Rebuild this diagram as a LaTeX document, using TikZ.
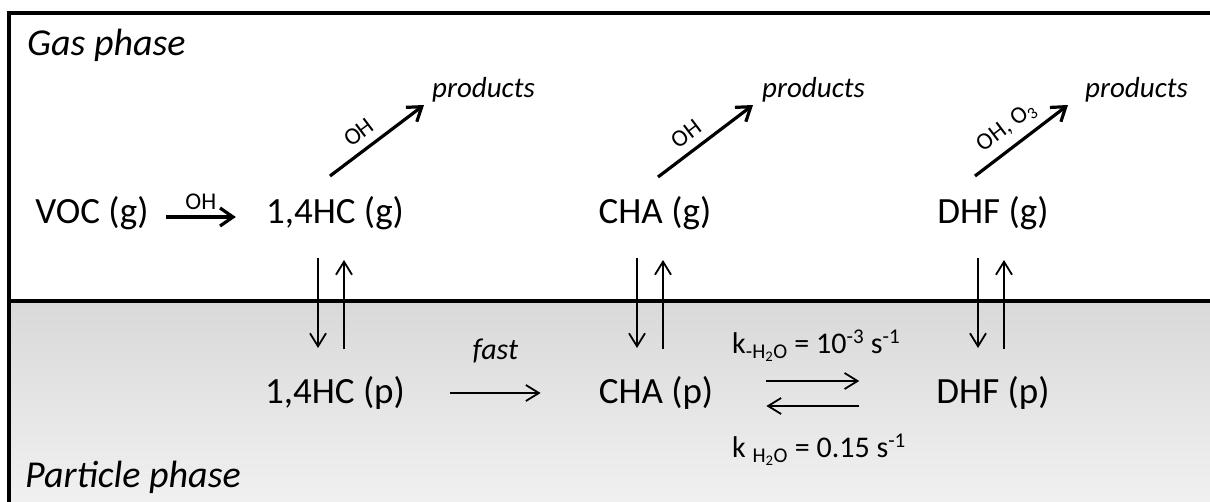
\documentclass[tikz,border=0pt]{standalone}
\usepackage{fontspec}
\setmainfont{Carlito}
\usetikzlibrary{arrows.meta,calc}
\definecolor{particleTop}{gray}{0.85}
\definecolor{particleBottom}{gray}{0.945}
\begin{document}
\begin{tikzpicture}[x=1pt,y=-1pt,
  species/.style={font=\fontsize{37}{40}\selectfont, inner sep=0pt, anchor=base},
  phaselabel/.style={font=\fontsize{38}{40}\selectfont\itshape, inner sep=0pt, anchor=base west},
  prodlabel/.style={font=\fontsize{29}{32}\selectfont\itshape, inner sep=0pt, anchor=base west},
  reagent/.style={font=\fontsize{24}{26}\selectfont, inner sep=0pt},
  fastlabel/.style={font=\fontsize{30}{32}\selectfont\itshape, inner sep=0pt},
  ratelabel/.style={font=\fontsize{30}{32}\selectfont, inner sep=0pt, anchor=base west},
  thin arrow/.style={line width=1.8pt, -{Straight Barb[length=13pt,width=16pt]}},
  bold arrow/.style={line width=3.2pt, -{Straight Barb[length=13pt,width=18pt]}},
  frame/.style={line width=4pt},
]
\useasboundingbox (0,0) rectangle (1210,501);
\clip (0,0) rectangle (1210,501);

% phases
\fill[white] (0,0) rectangle (1210,501);
\shade[top color=particleTop, bottom color=particleBottom] (9,301) rectangle (1215,506);
\draw[frame] (9,510) -- (9,12.5) -- (1215,12.5);
\draw[line width=3.5pt] (9,301) -- (1215,301);

\node[phaselabel] (gas) at (27,55) {Gas phase};
\node[phaselabel] (particle) at (25,487) {Particle phase};

% species
\node[species] (voc)  at (92,223)  {VOC (g)};
\node[species] (hcg)  at (335,223) {1,4HC (g)};
\node[species] (chag) at (655,223) {CHA (g)};
\node[species] (dhfg) at (993,223) {DHF (g)};
\node[species] (hcp)  at (335,403) {1,4HC (p)};
\node[species] (chap) at (656,403) {CHA (p)};
\node[species] (dhfp) at (993,403) {DHF (p)};

\node[prodlabel] (prod1) at (432,97)  {products};
\node[prodlabel] (prod2) at (762,97)  {products};
\node[prodlabel] (prod3) at (1085,97) {products};

% gas-phase oxidation
\draw[bold arrow] ($(voc.base east)+(17,-6)$) --
  node[reagent, above=6pt] {OH} ($(hcg.base west)+(-30,-6)$);
\draw[bold arrow] ($(hcg.base)+(-5,-47)$) --
  node[reagent, sloped, above=8pt, pos=0.42] {OH} ($(prod1.base west)+(-8,8)$);
\draw[bold arrow] ($(chag.base)+(3,-46)$) --
  node[reagent, sloped, above=8pt, pos=0.41] {OH} ($(prod2.base west)+(-9,8)$);
\draw[bold arrow] ($(dhfg.base)+(-18,-47)$) --
  node[reagent, sloped, above=8pt, pos=0.47] {OH, O\textsubscript{3}} ($(prod3.base west)+(-17,8)$);

% gas/particle partitioning
\draw[thin arrow] ($(hcg.base)+(-17,35)$) -- ($(hcp.base)+(-17,-55)$);
\draw[thin arrow] ($(hcp.base)+(9,-54)$) -- ($(hcg.base)+(9,37)$);
\draw[thin arrow] ($(chag.base)+(-18,35)$) -- ($(chap.base)+(-19,-55)$);
\draw[thin arrow] ($(chap.base)+(7,-54)$) -- ($(chag.base)+(8,37)$);
\draw[thin arrow] ($(dhfg.base)+(-15,35)$) -- ($(dhfp.base)+(-15,-55)$);
\draw[thin arrow] ($(dhfp.base)+(11,-54)$) -- ($(dhfg.base)+(11,37)$);

% particle-phase chemistry
\draw[thin arrow] ($(hcp.base east)+(45,-10)$) --
  node[fastlabel, above=29pt] {fast} ($(chap.base west)+(-58,-10)$);
\draw[thin arrow] ($(chap.base east)+(53,-22)$) -- ($(dhfp.base west)+(-77,-22)$);
\draw[thin arrow] ($(dhfp.base west)+(-77,3)$) -- ($(chap.base east)+(53,3)$);

\node[ratelabel] (kfwd) at (732,353)
  {k\textsubscript{-H\textsubscript{2}O} = 10\textsuperscript{-3} s\textsuperscript{-1}};
\node[ratelabel] (kback) at (732,457)
  {k \textsubscript{H\textsubscript{2}O} = 0.15 s\textsuperscript{-1}};
\end{tikzpicture}
\end{document}
